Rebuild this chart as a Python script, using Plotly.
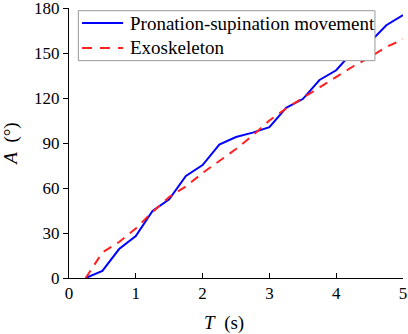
import plotly.graph_objects as go

t = [0.25, 0.5, 0.75, 1.0, 1.25, 1.5, 1.75, 2.0, 2.25, 2.5, 2.75, 3.0,
     3.25, 3.5, 3.75, 4.0, 4.25, 4.5, 4.75, 5.0]
pronation = [0, 4.7, 19.3, 28, 44.7, 52.4, 68, 75.3, 89, 94, 96.9, 100.6,
             113.5, 119.3, 132, 138.5, 151, 157, 168.5, 175.3]
exoskeleton = [0, 17, 24, 33, 44, 54, 61, 70, 78, 86, 95, 105,
               113, 120, 127, 134, 141, 147, 154, 159]
series_names = ["Pronation-supination movement", "Exoskeleton"]

x_ticks = [0, 1, 2, 3, 4, 5]
y_ticks = [0, 30, 60, 90, 120, 150, 180]

FONT = "Liberation Serif"
NB = "\u00a0"
BLUE = "#0000ff"
RED = "#ff2020"

fig = go.Figure()
fig.add_trace(go.Scatter(x=t, y=pronation, mode="lines", name=series_names[0],
                         showlegend=False,
                         line=dict(color=BLUE, width=2)))
fig.add_trace(go.Scatter(x=t, y=exoskeleton, mode="lines", name=series_names[1],
                         showlegend=False,
                         line=dict(color=RED, width=2, dash="9px,7px")))

# legend box (drawn in plot-area paper coordinates)
fig.add_shape(type="rect", xref="paper", yref="paper",
              x0=0.028, x1=0.916, y0=0.805, y1=0.99,
              line=dict(color="#999999", width=1), fillcolor="white", layer="above")
fig.add_shape(type="line", xref="paper", yref="paper",
              x0=0.039, x1=0.162, y0=0.944, y1=0.944,
              line=dict(color=BLUE, width=2), layer="above")
fig.add_shape(type="line", xref="paper", yref="paper",
              x0=0.039, x1=0.162, y0=0.852, y1=0.852,
              line=dict(color=RED, width=2, dash="10px,8px"), layer="above")
for name, yy in zip(series_names, [0.944, 0.852]):
    fig.add_annotation(xref="paper", yref="paper", x=0.177, y=yy,
                       xanchor="left", yanchor="middle", showarrow=False,
                       text=name, font=dict(family=FONT, size=19, color="black"))

fig.update_layout(
    width=408, height=334,
    margin=dict(l=69, r=5, t=8, b=56, autoexpand=False),
    paper_bgcolor="white", plot_bgcolor="white",
    font=dict(family=FONT, size=17, color="black"),
    showlegend=False,
    xaxis=dict(range=[0, 5], tickvals=x_ticks, ticks="inside", ticklen=5,
               tickcolor="black", showline=True, linecolor="black",
               linewidth=1, showgrid=False, zeroline=False, automargin=False,
               ticklabeloverflow="allow",
               tickfont=dict(family=FONT, size=17, color="black"),
               title=dict(text="<i>T</i>" + NB + NB + "(s)" + NB * 5 + "\u200b",
                          standoff=13,
                          font=dict(family=FONT, size=19, color="black"))),
    yaxis=dict(range=[0, 180], tickvals=y_ticks, ticks="outside", ticklen=5,
               tickcolor="black", showline=True, linecolor="black",
               linewidth=1, showgrid=False, zeroline=False, automargin=False,
               ticklabeloverflow="allow",
               tickfont=dict(family=FONT, size=17, color="black"),
               title=dict(text="<i>A</i>" + NB + NB + "(°)", standoff=14,
                          font=dict(family=FONT, size=19, color="black"))),
)

fig.write_html("out.html", config={"displayModeBar": False},
               post_script="document.body.style.margin='0';")
